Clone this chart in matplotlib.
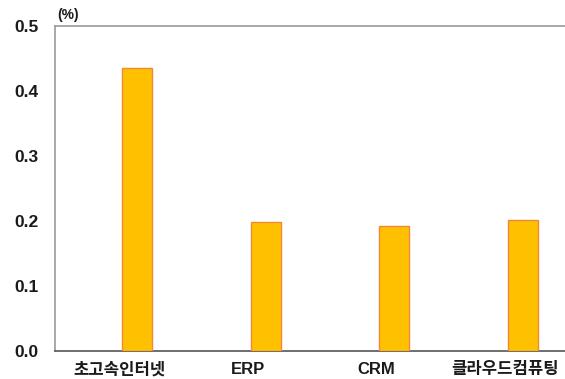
import matplotlib
matplotlib.use("Agg")
import matplotlib.pyplot as plt
import numpy as np

categories = ["초고속인터넷", "ERP", "CRM", "클라우드컴퓨팅"]
values = [0.435, 0.198, 0.193, 0.201]
yticks = [0.0, 0.1, 0.2, 0.3, 0.4, 0.5]
unit_label = "(%)"

fam = ["Liberation Sans", "Noto Sans CJK KR", "DejaVu Sans"]
plt.rcParams["font.family"] = fam

fig = plt.figure(figsize=(5.65, 3.79), dpi=100)
ax = fig.add_axes([55/565, 1 - 351/379, 514/565, 325/379])

x = np.arange(len(categories))
ax.bar(x + 0.14, values, width=0.23, color="#FFC000", edgecolor="#F0883A", linewidth=1.0, zorder=3)

ax.set_xlim(-0.5, 3.5)
ax.set_ylim(0, 0.5)
ax.set_yticks(yticks)
ax.set_yticklabels([f"{v:.1f}" for v in yticks], fontsize=12.5, fontweight="bold", color="#1a1a1a")
ax.set_xticks(x)
ax.set_xticklabels(categories, fontsize=12, fontweight="bold", color="#1a1a1a")
ax.tick_params(axis="y", length=0, pad=12)
ax.tick_params(axis="x", length=0, pad=8)

ax.spines["right"].set_visible(False)
ax.spines["top"].set_color("#999999")
ax.spines["left"].set_color("#999999")
ax.spines["bottom"].set_color("#555555")
for s in ax.spines.values():
    s.set_linewidth(1.2)

fig.text(57/565, 1 - 15/379, unit_label, fontsize=10, fontweight="bold", color="#1a1a1a", va="center", ha="left")

fig.savefig("out.png", dpi=100)
